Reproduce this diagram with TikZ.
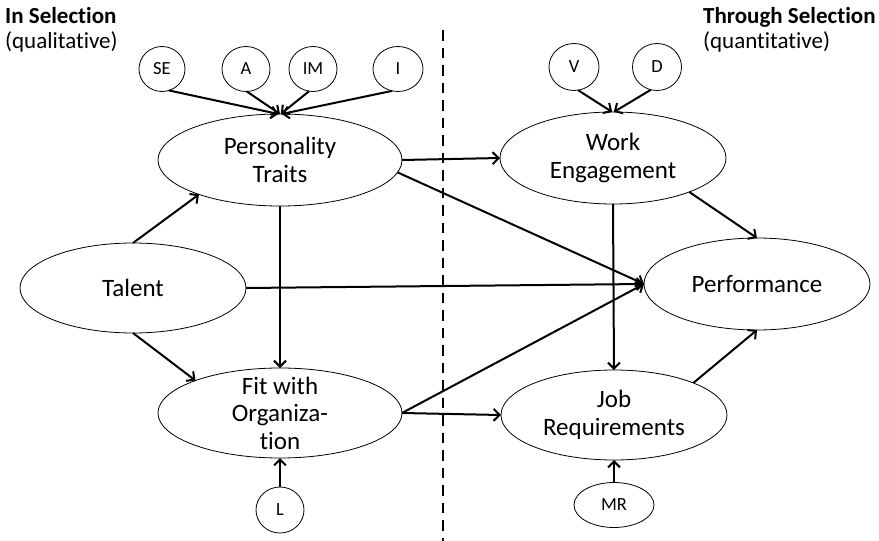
\documentclass[tikz,border=0pt]{standalone}
\usepackage{fontspec}
\setmainfont[Ligatures=NoCommon]{Carlito}
\usetikzlibrary{shapes.geometric,arrows.meta}
\begin{document}
\begin{tikzpicture}[x=1pt,y=-1pt,
  oval/.style={draw,ellipse,line width=0.8pt,inner sep=-45pt,outer sep=0pt,align=center,
    font=\fontsize{25}{27.5}\selectfont},
  factor/.style={draw,ellipse,line width=0.8pt,inner sep=-40pt,outer sep=0pt,
    font=\fontsize{18.5}{20}\selectfont},
  link/.style={line width=2pt,-{Straight Barb[length=6pt,width=12pt,line width=2pt]}},
  heading/.style={anchor=base west,inner sep=0pt,font=\fontsize{23}{26}\selectfont},
  divider/.style={line width=2.4pt,dash pattern=on 10.5pt off 7pt}]
\useasboundingbox (0,0) rectangle (879,541);

% column headings
\node[heading] (inhead) at (5,23) {\textbf{In Selection}};
\node[heading] (inqual) at (5,48) {(qualitative)};
\node[heading] (thhead) at (703,23) {\textbf{Through Selection}};
\node[heading] (thquan) at (703,48) {(quantitative)};

% dividing line
\coordinate (divtop) at (443,30);
\coordinate (divbot) at (443,541);
\draw[divider] (divtop) -- (divbot);

% main constructs
\node[oval,minimum width=244pt,minimum height=92pt] (pers) at (280,160) {Personality\\Traits};
\node[oval,minimum width=226pt,minimum height=90pt] (talent) at (133,288) {Talent};
\node[oval,minimum width=244pt,minimum height=90pt] (fit) at (280,413) {Fit with\\Organiza-\\tion};
\node[oval,minimum width=226pt,minimum height=92pt] (work) at (613,158) {Work\\Engagement};
\node[oval,minimum width=226pt,minimum height=92pt] (perf) at (757,284) {Performance};
\node[oval,minimum width=226pt,minimum height=90pt] (job) at (614,415) {Job\\Requirements};

% indicator factors
\node[factor,minimum width=46pt,minimum height=45pt] (se) at (162,69) {SE};
\node[factor,minimum width=48pt,minimum height=45pt] (a) at (246,69) {A};
\node[factor,minimum width=48pt,minimum height=45pt] (im) at (313,69) {IM};
\node[factor,minimum width=50pt,minimum height=45pt] (i) at (398,69) {I};
\node[factor,minimum width=50pt,minimum height=47pt] (v) at (574,67) {V};
\node[factor,minimum width=49pt,minimum height=47pt] (d) at (657,67) {D};
\node[factor,minimum width=48pt,minimum height=46pt] (l) at (280,510) {L};
\node[factor,minimum width=80pt,minimum height=45pt] (mr) at (614,505) {MR};

% factor arrows
\draw[link] (se.-72) -- (pers.92);
\draw[link] (a.-88) -- (pers.90);
\draw[link] (im.-100) -- (pers.89);
\draw[link] (i.-105) -- (pers.88);
\draw[link] (v.-80) -- (work.91);
\draw[link] (d.-105) -- (work.89);
\draw[link] (l.north) -- (fit.south);
\draw[link] (mr.north) -- (job.south);

% structural paths
\draw[link] (talent.north) -- (pers.203);
\draw[link] (talent.south) -- (fit.159);
\draw[link] (pers.south) -- (fit.north);
\draw[link] (talent.east) -- (perf.west);
\draw[link] (pers.east) -- (work.west);
\draw[link] (pers.-6) -- (perf.west);
\draw[link] (fit.east) -- (perf.west);
\draw[link] (fit.east) -- (job.west);
\draw[link] (work.-24) -- (perf.north);
\draw[link] (work.south) -- (job.north);
\draw[link] (job.22) -- (perf.south);
\end{tikzpicture}
\end{document}
